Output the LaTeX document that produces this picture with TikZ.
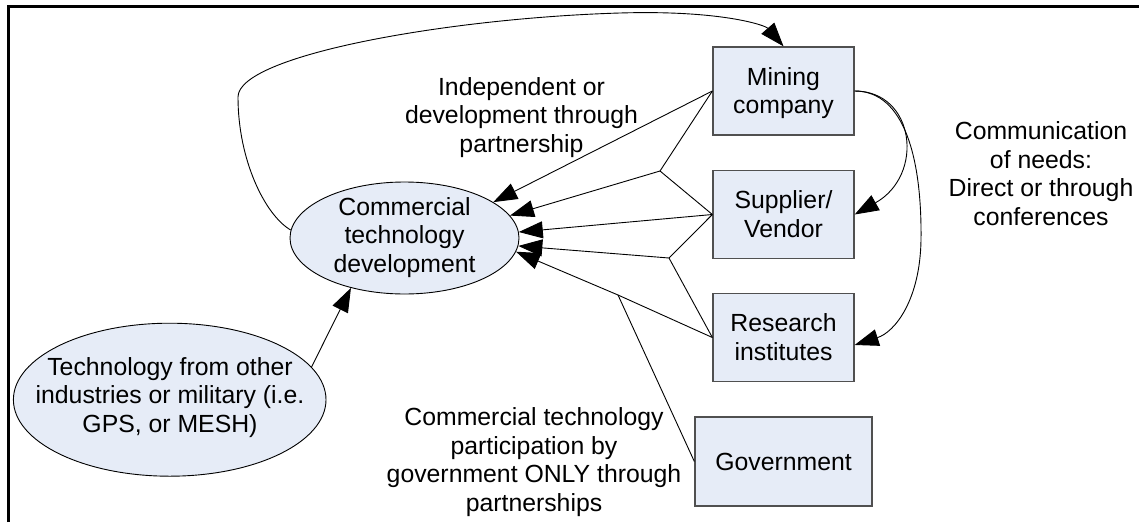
\documentclass[tikz,border=0pt]{standalone}
\usepackage{fontspec}
\setmainfont{Liberation Sans}
\usetikzlibrary{arrows.meta,shapes.geometric}
\definecolor{boxfill}{RGB}{230,236,247}
\definecolor{boxline}{RGB}{80,80,80}
\newcommand\vs{\rule[-5.24pt]{0pt}{27.6pt}}
\begin{document}
\begin{tikzpicture}[x=1pt,y=-1pt,
  txt/.style={font=\fontsize{24.8}{28.5}\selectfont, align=center, inner sep=0pt},
  box/.style={txt, draw=boxline, line width=1.3pt, fill=boxfill, minimum width=141pt, minimum height=88pt},
  ell/.style={ellipse, draw=black, line width=0.9pt, fill=boxfill, inner sep=0pt},
  conn/.style={line width=0.9pt, draw=black},
  arr/.style={conn, -{Triangle[length=24pt,width=17pt]}}
]
\useasboundingbox (0,0) rectangle (1139,522);
% frame
\draw[line width=3pt] (8.3,522) -- (8.3,6.3) -- (1139,6.3);

% boxes
\node[box] (mine) at (783.5,91) {\vs Mining\\\vs company};
\node[box] (sup) at (783.5,214.5) {\vs Supplier/\\\vs Vendor};
\node[box] (rsch) at (783.5,337.5) {\vs Research\\\vs institutes};
\node[box, minimum width=177pt, minimum height=89pt] (gov) at (783.5,461.5) {\vs Government};

% ellipses
\node[ell, minimum width=229pt, minimum height=112pt] (cte) at (404.5,238) {};
\node[txt] (cteT) at (404.5,235.3) {\vs Commercial\\\vs technology\\\vs development};
\node[ell, minimum width=312.6pt, minimum height=153pt] (tech) at (169.7,399.7) {};
\node[txt] (techT) at (170,395.2) {\vs Technology from other\\\vs industries or military (i.e.\\\vs GPS, or MESH)};

% free labels
\node[txt] (lbl1) at (521.5,115.3) {\vs Independent or\\\vs development through\\\vs partnership};
\node[txt] (lbl2) at (1041,173.9) {\vs Communication\\\vs of needs:\\\vs Direct or through\\\vs conferences};
\node[txt] (lbl3) at (534,459.8) {\vs Commercial technology\\\vs participation by\\\vs government ONLY through\\\vs partnerships};

% junctions
\coordinate (J1) at (660,171);
\coordinate (J2) at (669,258);
\coordinate (J3) at (618,295);

% fan into commercial technology development
\draw[arr] (mine.west) -- (cte.22);
\draw[conn] (mine.west) -- (J1);
\draw[conn] (sup.west) -- (J1);
\draw[arr] (J1) -- (cte.12);
\draw[arr] (sup.west) -- (cte.3);
\draw[conn] (sup.west) -- (J2);
\draw[conn] (rsch.west) -- (J2);
\draw[arr] (J2) -- (cte.-4);
\draw[conn] (rsch.west) -- (J3);
\draw[conn] (gov.west) -- (J3);
\draw[arr] (J3) -- (cte.-7);

% technology from other industries
\draw[arr] (tech.13) -- (cte.-137);

% big loop to mining company
\draw[arr] (cte.176) .. controls (265,215) and (238,160) .. (238,97)
  .. controls (238,55) and (450,18) .. (620,13)
  .. controls (720,10) and (765,25) .. (mine.north);

% communication of needs
\draw[arr] (mine.east) .. controls (915,91) and (925,175) .. (sup.east);
\draw[arr] (mine.east) .. controls (905,91) and (922,160) .. (921,240)
  .. controls (920,300) and (895,332) .. (rsch.-6);
\end{tikzpicture}
\end{document}
